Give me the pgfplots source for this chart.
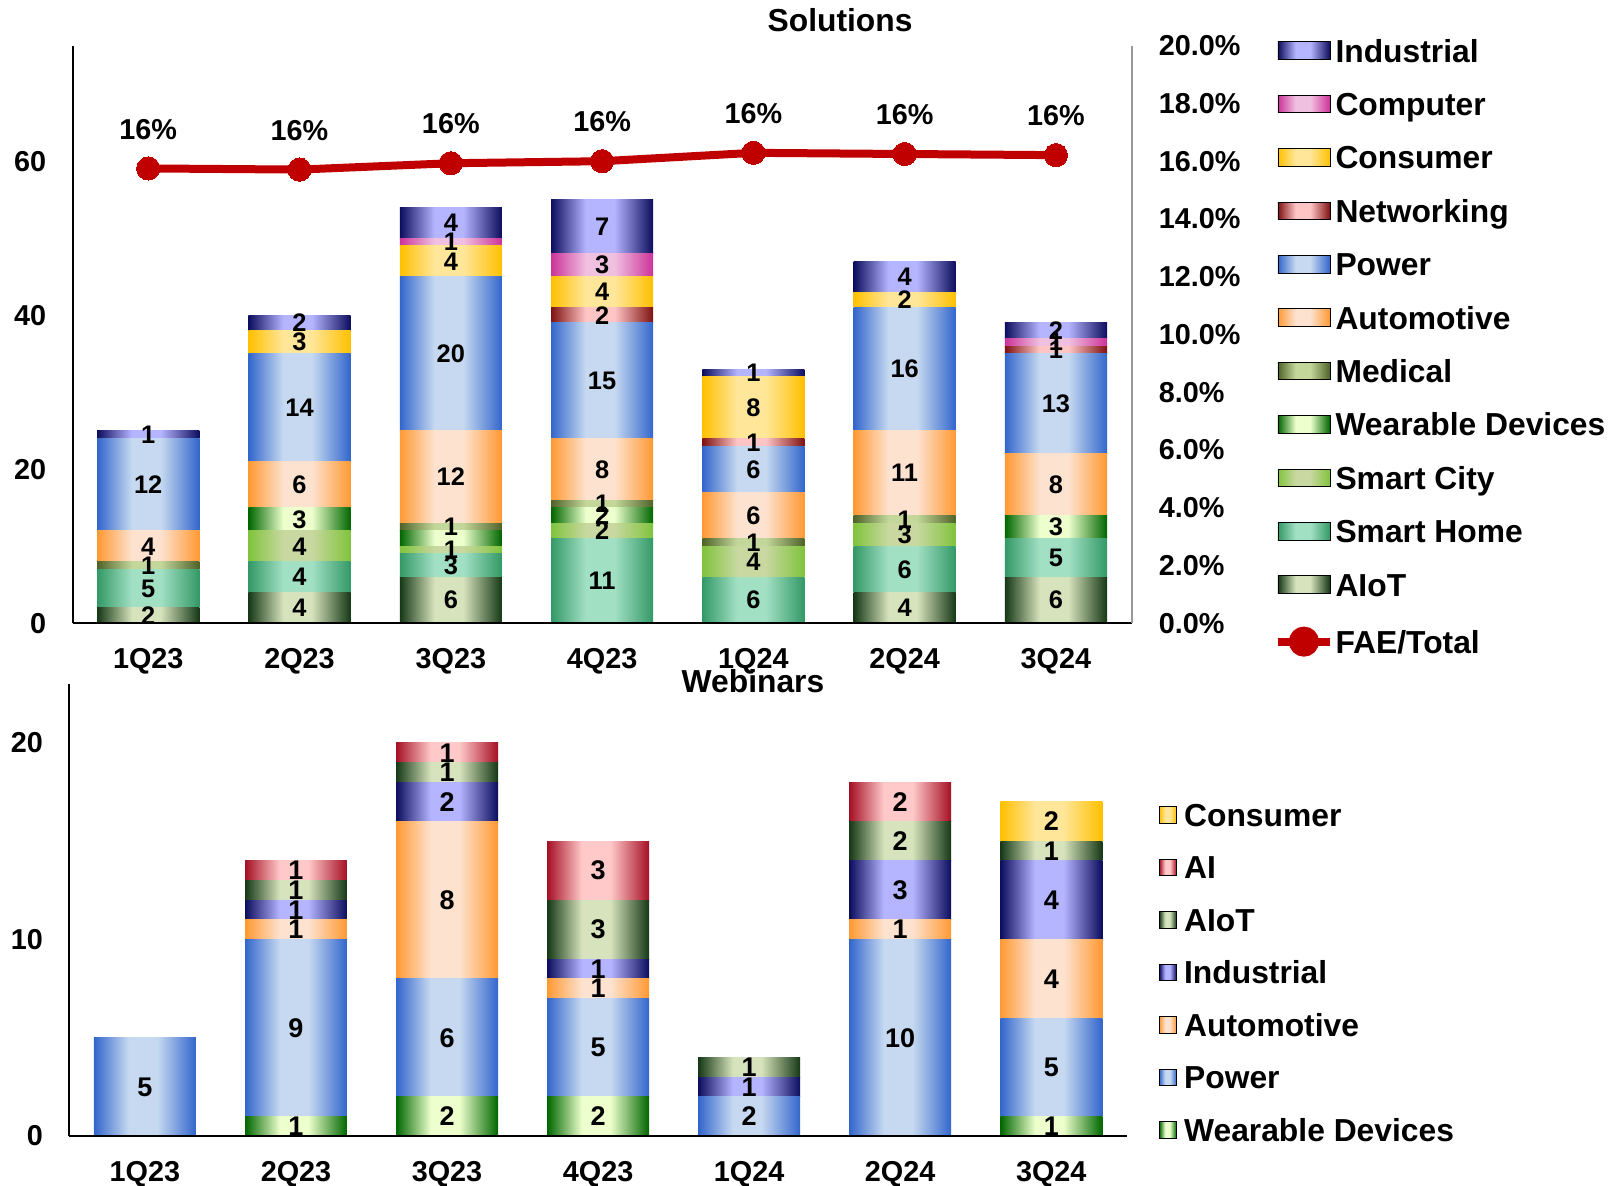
\documentclass[border=0pt]{standalone}
\usepackage{fontspec}
\setmainfont{Liberation Sans}
\usepackage{pgfplots}
\usepackage{pgfplotstable}
\pgfplotsset{compat=1.18}

\definecolor{indE}{HTML}{0D0D5E}\definecolor{indC}{HTML}{B4B4FF}
\definecolor{compE}{HTML}{CC3399}\definecolor{compC}{HTML}{F0C0E0}
\definecolor{consE}{HTML}{FFC000}\definecolor{consC}{HTML}{FFE699}
\definecolor{netE}{HTML}{7F1111}\definecolor{netC}{HTML}{FFC5C5}
\definecolor{powE}{HTML}{3366CC}\definecolor{powC}{HTML}{C6D9F0}
\definecolor{autoE}{HTML}{FF9933}\definecolor{autoC}{HTML}{FDE2CF}
\definecolor{medE}{HTML}{4F6228}\definecolor{medC}{HTML}{C4D79B}
\definecolor{wearE}{HTML}{006600}\definecolor{wearC}{HTML}{ECFFCC}
\definecolor{scityE}{HTML}{80C33C}\definecolor{scityC}{HTML}{C8D8A0}
\definecolor{shomeE}{HTML}{339966}\definecolor{shomeC}{HTML}{A2E0C4}
\definecolor{aiotE}{HTML}{163816}\definecolor{aiotC}{HTML}{D6E3BC}
\definecolor{aiE}{HTML}{A50F24}\definecolor{aiC}{HTML}{FFC9C9}
\definecolor{faeC}{HTML}{C00000}

\newcommand\mkshade[3]{\pgfdeclarehorizontalshading{#1}{100bp}{color(0bp)=(#2); color(25bp)=(#2); color(42bp)=(#3); color(56bp)=(#3); color(75bp)=(#2); color(100bp)=(#2)}}
\mkshade{sh-ind}{indE}{indC}
\mkshade{sh-comp}{compE}{compC}
\mkshade{sh-cons}{consE}{consC}
\mkshade{sh-net}{netE}{netC}
\mkshade{sh-pow}{powE}{powC}
\mkshade{sh-auto}{autoE}{autoC}
\mkshade{sh-med}{medE}{medC}
\mkshade{sh-wear}{wearE}{wearC}
\mkshade{sh-scity}{scityE}{scityC}
\mkshade{sh-shome}{shomeE}{shomeC}
\mkshade{sh-aiot}{aiotE}{aiotC}
\mkshade{sh-ai}{aiE}{aiC}

\newcommand\fT{\fontsize{14.4}{17}\selectfont\bfseries}
\newcommand\fL{\fontsize{15.9}{18}\selectfont\bfseries}
\newcommand\fD{\fontsize{12.7}{15}\selectfont\bfseries}
\newcommand\fDb{\fontsize{13.5}{15}\selectfont\bfseries}

\pgfplotsset{
  seg/.style={shade, shading=#1, draw=none},
  labs/.style={draw=none, mark=none, forget plot, point meta=explicit symbolic,
    visualization depends on={\thisrow{#1} \as \val},
    nodes near coords={\ifnum\pgfplotspointmeta>0 \pgfplotspointmeta\fi},
    every node near coord/.append style={anchor=center, yshift=-\val*\hu, font=\labfont, text=black, inner sep=0pt}},
  frame/.style={scale only axis, anchor=south west, xmin=-0.5, xmax=6.5},
  topgeom/.style={frame, at={(36.3pt,280.85pt)}, width=529.5pt, height=288.8pt},
  botgeom/.style={frame, at={(34.7pt,24.5pt)}, width=528.7pt, height=226pt},
  ticksty/.style={
    axis line style={line width=1pt, black},
    xtick={0,...,6}, xticklabels={1Q23,2Q23,3Q23,4Q23,1Q24,2Q24,3Q24},
    major tick length=0pt,
    /pgf/number format/assume math mode=true,
    tick label style={font=\fT, inner sep=0pt},
    xticklabel style={anchor=base, yshift=-22.6pt},
    yticklabel style={anchor=east, xshift=-13pt},
    every axis title shift=0pt},
}

\pgfplotstableread{
x aiot shome scity wear wearl med auto power net cons comp ind
0 2 5 0 0 0 1 4 12 0 0 0 1
1 4 4 4 3 3 0 6 14 0 3 0 2
2 6 3 1 2 0 1 12 20 0 4 1 4
3 0 11 2 2 2 1 8 15 2 4 3 7
4 0 6 4 0 0 1 6 6 1 8 0 1
5 4 6 3 0 0 1 11 16 0 2 0 4
6 6 5 0 3 3 0 8 13 1 0 1 2
}\sol

\pgfplotstableread{
x fae
0 15.75
1 15.71
2 15.93
3 16.00
4 16.29
5 16.25
6 16.21
}\fae

\pgfplotstableread{
x wear power auto ind aiot ai cons
0 0 5 0 0 0 0 0
1 1 9 1 1 1 1 0
2 2 6 8 2 1 1 0
3 2 5 1 1 3 3 0
4 0 2 0 1 1 0 0
5 0 10 1 3 2 2 0
6 1 5 4 4 1 0 2
}\web

% one stacked bar (one quarter) per axis, so that each bar gets its own shading
\newcommand\solbar[1]{%
\begin{axis}[topgeom, ymin=0, ymax=75, hide axis, ybar stacked, bar width=0.675,
  restrict x to domain=#1:#1]
\addplot[seg=sh-aiot] table[x=x,y=aiot]{\sol};
\addplot[seg=sh-shome] table[x=x,y=shome]{\sol};
\addplot[seg=sh-scity] table[x=x,y=scity]{\sol};
\addplot[seg=sh-wear] table[x=x,y=wear]{\sol};
\addplot[seg=sh-med] table[x=x,y=med]{\sol};
\addplot[seg=sh-auto] table[x=x,y=auto]{\sol};
\addplot[seg=sh-pow] table[x=x,y=power]{\sol};
\addplot[seg=sh-net] table[x=x,y=net]{\sol};
\addplot[seg=sh-cons] table[x=x,y=cons]{\sol};
\addplot[seg=sh-comp] table[x=x,y=comp]{\sol};
\addplot[seg=sh-ind] table[x=x,y=ind]{\sol};
\end{axis}}

\newcommand\webbar[1]{%
\begin{axis}[botgeom, ymin=0, ymax=23, hide axis, ybar stacked, bar width=0.675,
  restrict x to domain=#1:#1]
\addplot[seg=sh-wear] table[x=x,y=wear]{\web};
\addplot[seg=sh-pow] table[x=x,y=power]{\web};
\addplot[seg=sh-auto] table[x=x,y=auto]{\web};
\addplot[seg=sh-ind] table[x=x,y=ind]{\web};
\addplot[seg=sh-aiot] table[x=x,y=aiot]{\web};
\addplot[seg=sh-ai] table[x=x,y=ai]{\web};
\addplot[seg=sh-cons] table[x=x,y=cons]{\web};
\end{axis}}

\newcommand\limg[2]{\addlegendimage{legend image code/.code={\path[shade,shading=#1] (0pt,-4.4pt) rectangle (26pt,4.4pt);}}\addlegendentry{#2}}
\newcommand\limgs[2]{\addlegendimage{legend image code/.code={\path[shade,shading=#1] (0pt,-4.15pt) rectangle (8.5pt,4.15pt);}}\addlegendentry{#2}}

\begin{document}
\begin{tikzpicture}
\useasboundingbox (0,0) rectangle (806.5pt,592.5pt);
% ---------------- Solutions: bars
\solbar{0}\solbar{1}\solbar{2}\solbar{3}\solbar{4}\solbar{5}\solbar{6}
% ---------------- Solutions: frame + segment labels
\def\hu{1.9253pt}
\let\labfont\fD
\begin{axis}[topgeom, ticksty,
  ymin=0, ymax=75, stack plots=y,
  axis x line*=bottom, axis y line*=left,
  ytick={0,20,40,60},
  title={Solutions}, title style={font=\fL, at={(axis description cs:0.7247,1.0435)}, anchor=center, inner sep=0pt},
]
\addplot[labs=aiot] table[x=x,y=aiot,meta=aiot]{\sol};
\addplot[labs=shome] table[x=x,y=shome,meta=shome]{\sol};
\addplot[labs=scity] table[x=x,y=scity,meta=scity]{\sol};
\addplot[labs=wear] table[x=x,y=wear,meta=wearl]{\sol};
\addplot[labs=med] table[x=x,y=med,meta=med]{\sol};
\addplot[labs=auto] table[x=x,y=auto,meta=auto]{\sol};
\addplot[labs=power] table[x=x,y=power,meta=power]{\sol};
\addplot[labs=net] table[x=x,y=net,meta=net]{\sol};
\addplot[labs=cons] table[x=x,y=cons,meta=cons]{\sol};
\addplot[labs=comp] table[x=x,y=comp,meta=comp]{\sol};
\addplot[labs=ind] table[x=x,y=ind,meta=ind]{\sol};
\end{axis}
% ---------------- Solutions: FAE line, right axis, legend
\begin{axis}[topgeom,
  ymin=0, ymax=20,
  axis x line=none, axis y line*=right,
  axis line style={line width=1pt, draw=black!40},
  ytick={0,2,...,20},
  yticklabel={\pgfmathprintnumber[fixed,fixed zerofill,precision=1]{\tick}\%},
  major tick length=0pt,
  /pgf/number format/assume math mode=true,
  tick label style={font=\fT, inner sep=0pt},
  yticklabel style={anchor=west, xshift=13.4pt},
  legend cell align=left,
  legend style={at={(axis description cs:1.1344,1.0112)}, anchor=north west,
    draw=none, fill=none, inner sep=0pt, outer sep=0pt,
    row sep=15.3pt, column sep=0.8pt, font=\fL,
    nodes={inner sep=0pt, text height=11.4pt, text depth=0pt}},
]
\limg{sh-ind}{Industrial}
\limg{sh-comp}{Computer}
\limg{sh-cons}{Consumer}
\limg{sh-net}{Networking}
\limg{sh-pow}{Power}
\limg{sh-auto}{Automotive}
\limg{sh-med}{Medical}
\limg{sh-wear}{Wearable Devices}
\limg{sh-scity}{Smart City}
\limg{sh-shome}{Smart Home}
\limg{sh-aiot}{AIoT}
\addplot[color=faeC, line width=4pt, mark=*, mark size=5.8pt, mark options={solid, fill=faeC, draw=faeC, line width=0pt},
  point meta=y,
  nodes near coords={\pgfmathprintnumber[fixed,precision=0]{\pgfplotspointmeta}\%},
  every node near coord/.append style={anchor=center, yshift=19.6pt, font=\fT, text=black, inner sep=0pt},
  legend image code/.code={\draw[faeC, line width=4pt] (0pt,0pt) -- (26pt,0pt); \fill[faeC] (13pt,0pt) circle (5.5pt);}
] table[x=x,y=fae]{\fae};
\addlegendentry{FAE/Total}
\end{axis}

% ---------------- Webinars: bars
\webbar{0}\webbar{1}\webbar{2}\webbar{3}\webbar{4}\webbar{5}\webbar{6}
% ---------------- Webinars: frame, labels, legend
\def\hu{4.913pt}
\let\labfont\fDb
\begin{axis}[botgeom, ticksty,
  ymin=0, ymax=23, stack plots=y,
  axis x line*=bottom, axis y line*=left,
  ytick={0,10,20},
  title={Webinars}, title style={font=\fL, at={(axis description cs:0.6465,1.0066)}, anchor=center, inner sep=0pt},
  legend cell align=left,
  legend style={at={(axis description cs:1.0304,0.7354)}, anchor=north west,
    draw=none, fill=none, inner sep=0pt, outer sep=0pt,
    row sep=14.83pt, column sep=3.7pt, font=\fL,
    nodes={inner sep=0pt, text height=11.4pt, text depth=0pt}},
]
\limgs{sh-cons}{Consumer}
\limgs{sh-ai}{AI}
\limgs{sh-aiot}{AIoT}
\limgs{sh-ind}{Industrial}
\limgs{sh-auto}{Automotive}
\limgs{sh-pow}{Power}
\limgs{sh-wear}{Wearable Devices}
\addplot[labs=wear] table[x=x,y=wear,meta=wear]{\web};
\addplot[labs=power] table[x=x,y=power,meta=power]{\web};
\addplot[labs=auto] table[x=x,y=auto,meta=auto]{\web};
\addplot[labs=ind] table[x=x,y=ind,meta=ind]{\web};
\addplot[labs=aiot] table[x=x,y=aiot,meta=aiot]{\web};
\addplot[labs=ai] table[x=x,y=ai,meta=ai]{\web};
\addplot[labs=cons] table[x=x,y=cons,meta=cons]{\web};
\end{axis}
\end{tikzpicture}
\end{document}
